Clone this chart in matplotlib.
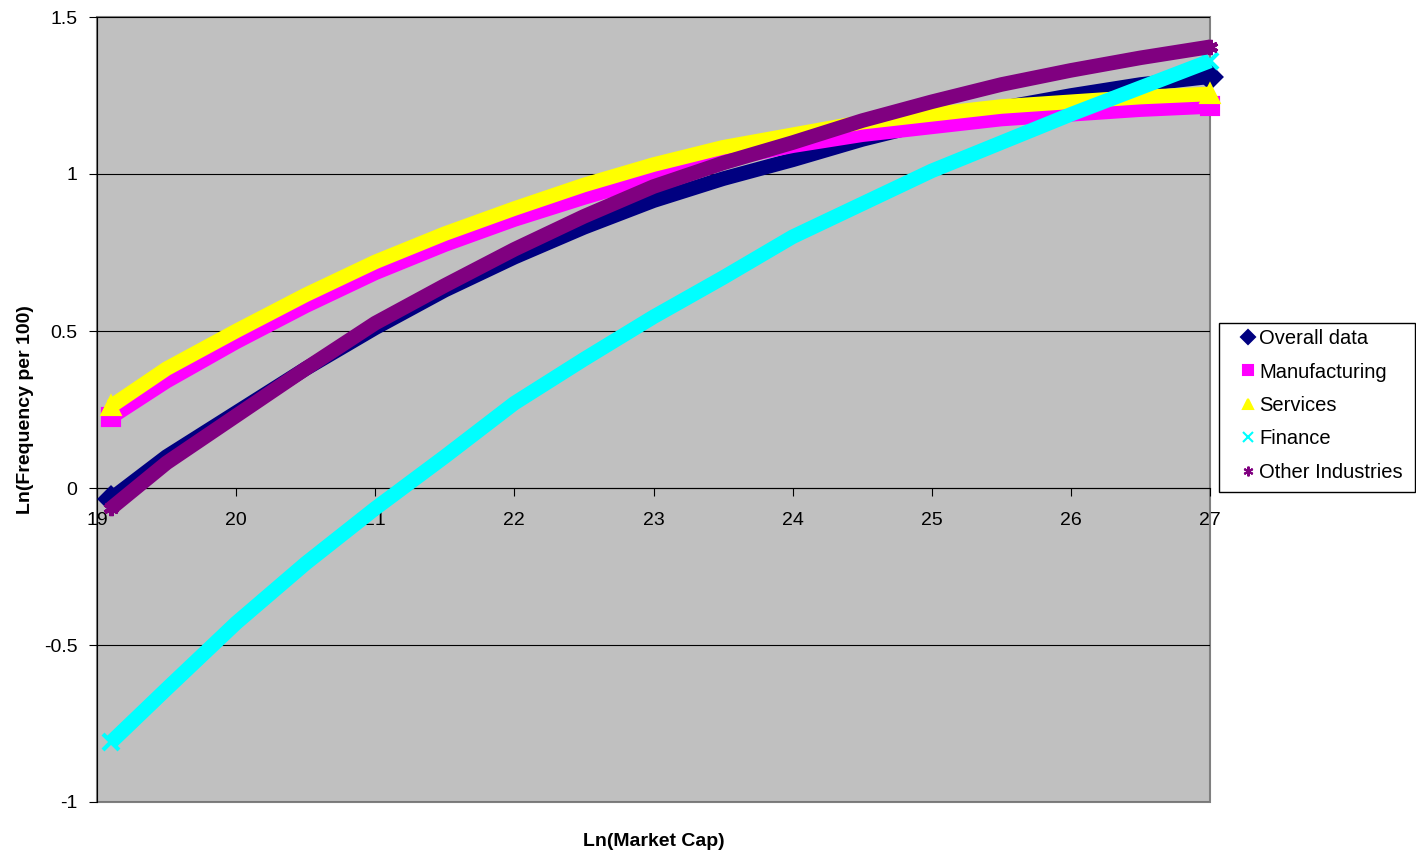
import matplotlib
matplotlib.use("Agg")
import matplotlib.pyplot as plt
from matplotlib.lines import Line2D
from matplotlib.patches import Rectangle

plt.rcParams.update({
    "font.family": ["Liberation Sans", "DejaVu Sans"],
    "font.size": 14,
})

# values
ln_cap = [19.1, 19.5, 20, 20.5, 21, 21.5, 22, 22.5, 23, 23.5, 24, 24.5,
          25, 25.5, 26, 26.5, 27]
overall = [-0.035, 0.10, 0.24, 0.38, 0.51, 0.63, 0.735, 0.83, 0.915, 0.985,
           1.045, 1.11, 1.165, 1.21, 1.25, 1.285, 1.31]
manufacturing = [0.225, 0.34, 0.465, 0.58, 0.685, 0.775, 0.855, 0.925, 0.99,
                 1.045, 1.09, 1.125, 1.15, 1.175, 1.19, 1.205, 1.215]
services = [0.26, 0.38, 0.50, 0.615, 0.72, 0.81, 0.89, 0.965, 1.03, 1.085,
            1.125, 1.165, 1.19, 1.215, 1.23, 1.245, 1.255]
finance = [-0.81, -0.64, -0.43, -0.24, -0.065, 0.10, 0.27, 0.41, 0.545, 0.67,
           0.80, 0.905, 1.01, 1.10, 1.19, 1.275, 1.36]
other = [-0.065, 0.08, 0.23, 0.38, 0.525, 0.645, 0.76, 0.865, 0.96, 1.035,
         1.10, 1.17, 1.23, 1.285, 1.33, 1.37, 1.405]

x_ticks = [19, 20, 21, 22, 23, 24, 25, 26, 27]
y_ticks = [-1, -0.5, 0, 0.5, 1, 1.5]
y_tick_labels = ["-1", "-0.5", "0", "0.5", "1", "1.5"]

SERIES = [
    ("Overall data", overall, "#000080", "D"),
    ("Manufacturing", manufacturing, "#FF00FF", "s"),
    ("Services", services, "#FFFF00", "^"),
    ("Finance", finance, "#00FFFF", "x"),
    ("Other Industries", other, "#800080", (6, 2, 0)),
]

W, H = 1416, 852
fig = plt.figure(figsize=(W / 100, H / 100), dpi=100)
ax = fig.add_axes([97 / W, 1 - 802 / H, 1113 / W, 785 / H])
ax.set_facecolor("#C0C0C0")
ax.patch.set_edgecolor("#808080")
ax.patch.set_linewidth(1.5)

handles = []
for i, (name, vals, col, mk) in enumerate(SERIES):
    ax.plot(ln_cap, vals, color=col, lw=10.5, solid_capstyle="butt",
            zorder=3 + i, clip_on=False)
    ax.plot(ln_cap, vals, color=col, marker=mk, ms=11, mew=3, ls="none",
            markevery=[0, len(vals) - 1], zorder=3 + i, clip_on=False)
    handles.append(Line2D([], [], color=col, marker=mk, ls="none", ms=7,
                          mew=1.5, label=name))

ax.set_xlim(19, 27)
ax.set_ylim(-1, 1.5)
ax.set_xticks(x_ticks)
ax.set_yticks(y_ticks)
ax.set_yticklabels(y_tick_labels)

ax.set_axisbelow(True)
ax.yaxis.grid(True, color="black", lw=0.8)
ax.spines["top"].set_visible(False)
ax.spines["right"].set_visible(False)
ax.spines["left"].set_color("black")
ax.spines["bottom"].set_position(("data", 0))
ax.spines["bottom"].set_color("black")
ax.tick_params(axis="x", direction="out", length=6, pad=11, labelsize=14)
ax.tick_params(axis="y", direction="out", length=6, pad=8, labelsize=14)

ax.set_xlabel("Ln(Market Cap)", fontweight="bold", fontsize=14)
ax.set_ylabel("Ln(Frequency per 100)", fontweight="bold", fontsize=14)
ax.xaxis.set_label_coords(0.5, -0.039)
ax.yaxis.set_label_coords(-0.057, 0.5)

# legend box drawn separately so the entries can sit inset like Excel's
fig.patches.append(Rectangle((1219 / W, 1 - 492 / H), (1415 - 1219) / W,
                             (492 - 323) / H, transform=fig.transFigure,
                             facecolor="white", edgecolor="black", lw=1,
                             zorder=1))
leg = fig.legend(handles=handles, loc="upper left",
                 bbox_to_anchor=(1240 / W, 1 - 329 / H),
                 fontsize=14.5, frameon=False, borderaxespad=0, borderpad=0,
                 handlelength=0.8, handletextpad=0.15, labelspacing=0.72)
leg.set_zorder(2)

fig.savefig("out.png", dpi=100)
